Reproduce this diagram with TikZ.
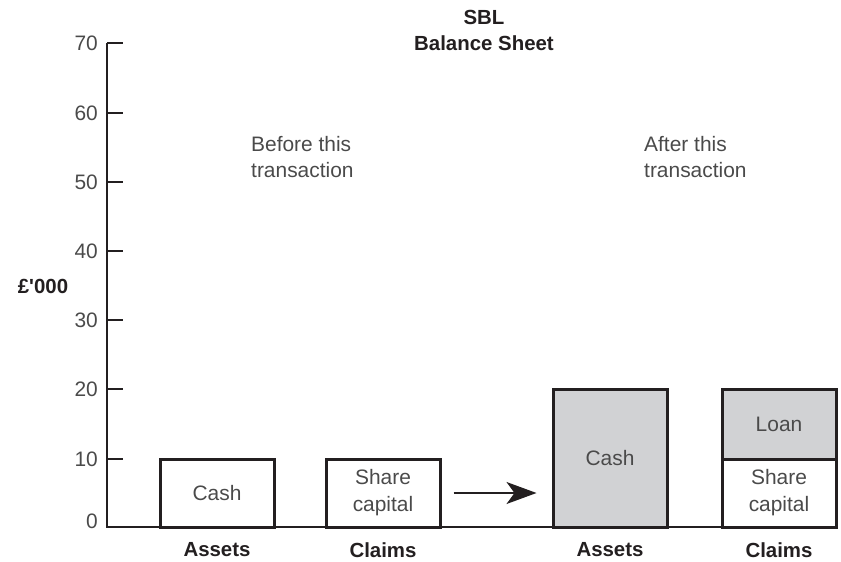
\documentclass[tikz,border=0pt]{standalone}
\usepackage{fontspec}
\setmainfont{Liberation Sans}
\usetikzlibrary{arrows.meta}
\definecolor{boxline}{HTML}{231F20}
\definecolor{boxfill}{HTML}{D1D2D4}
\definecolor{txtgray}{HTML}{4A4A4A}
\tikzset{
  x=1bp, y=-1bp,
  lbl/.style={font=\fontsize{21}{26.5}\selectfont, text=txtgray, align=center, inner sep=0pt},
  bold/.style={font=\fontsize{20.5}{26}\selectfont\bfseries, text=boxline, align=center, inner sep=0pt},
  tick/.style={font=\fontsize{21}{26}\selectfont, text=txtgray, anchor=east, inner sep=0pt},
  bar/.style={draw=boxline, line width=3bp, minimum width=114bp, inner sep=0pt,
              font=\fontsize{21}{27}\selectfont, text=txtgray, align=center},
  axisline/.style={draw=boxline, line width=1.5bp}
}
\begin{document}
\begin{tikzpicture}
\useasboundingbox (0,0) rectangle (841,562);
% axis
\coordinate (top) at (107,43);
\coordinate (orig) at (107,527);
\coordinate (xend) at (837,527);
\draw[axisline] (top) -- (orig) -- (xend);
\foreach \v/\y in {70/43,60/113,50/182,40/251,30/320,20/389,10/459} {
  \draw[axisline] (107,\y) -- (123,\y);
  \node[tick] at (98,\y) {\v};
}
\node[tick] at (98,521) {0};
% titles
\node[bold] (t1) at (484,17) {SBL};
\node[bold] (t2) at (484,43) {Balance Sheet};
\node[bold] (unit) at (43,286) {£\textquotesingle 000};
\node[lbl, align=left, anchor=west] (before) at (251,157) {Before this\\transaction};
\node[lbl, align=left, anchor=west] (after) at (644,157) {After this\\transaction};
% before
\node[bar, minimum height=68bp] (b1) at (217,493) {Cash};
\node[bar, minimum height=68bp] (b2) at (383,493) {Share\\capital};
% after
\node[bar, fill=boxfill, minimum height=138bp] (b3) at (610,458) {Cash};
\node[bar, fill=boxfill, minimum height=70bp] (b4) at (779,424) {Loan};
\node[bar, fill=white, minimum height=68bp] (b5) at (779,493) {Share\\capital};
% arrow
\draw[draw=boxline, line width=1.2bp, -{Stealth[length=30bp,width=22bp,inset=8bp]},
      shorten <=12bp, shorten >=15bp] (b2.east) -- (b3.west |- b2.east);
% category labels
\node[bold] (a1) at (217,550) {Assets};
\node[bold] (c1) at (383,550) {Claims};
\node[bold] (a2) at (610,550) {Assets};
\node[bold] (c2) at (779,550) {Claims};
\end{tikzpicture}
\end{document}
